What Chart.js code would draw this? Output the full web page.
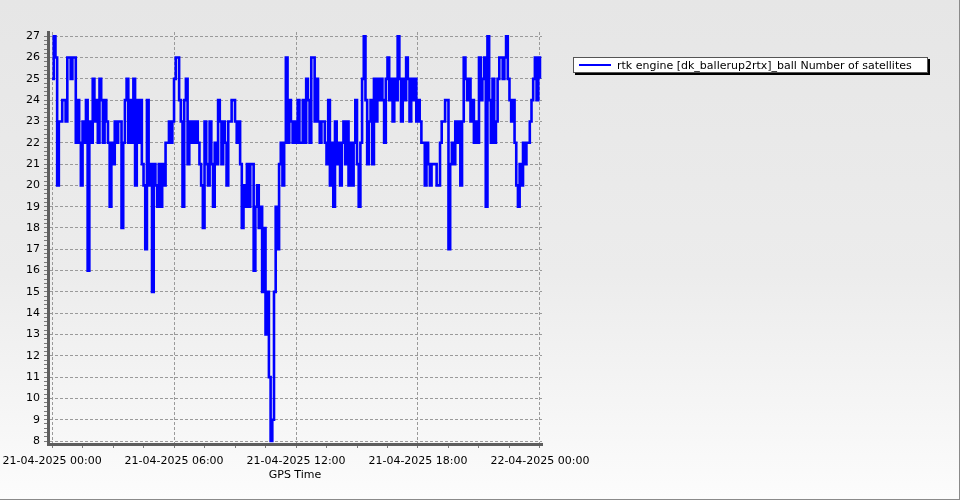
<!DOCTYPE html>
<html>
<head>
<meta charset="utf-8">
<script src="https://cdn.jsdelivr.net/npm/chart.js@4.4.1/dist/chart.umd.min.js"></script>
<style>
    html, body { margin: 0; padding: 0; background: #fff; }
    #wrap {
        position: relative; width: 960px; height: 500px; box-sizing: border-box;
        border-right: 1px solid #8a8a8a; border-bottom: 1px solid #8a8a8a;
        background: linear-gradient(to bottom, #e6e6e6 0%, #ececec 55%, #fcfcfc 100%);
    }
    #chart { position: absolute; left: 0; top: 0; }
    #legend {
        position: absolute; left: 573px; top: 57px; height: 14px;
        background: #fff; border: 1px solid #555; box-shadow: 2px 2px 0 #000;
        font: 11px "DejaVu Sans", sans-serif; color: #000; white-space: nowrap;
        display: flex; align-items: center; padding-right: 15px;
    }
    #legend .swatch { display: inline-block; width: 32px; height: 2px; background: #0000ff; margin: 0 6px 0 5px; }
</style>
</head>
<body>
<div id="wrap">
    <canvas id="chart" width="960" height="500"></canvas>
    <div id="legend"><span class="swatch"></span><span id="legend-text"></span></div>
</div>
<script>
// Number of satellites, one sample every 5 minutes from 21-04-2025 00:00
const sampleStepMin = 5;
const seriesLabel = 'rtk engine [dk_ballerup2rtx]_ball Number of satellites';

const satellites = [
    // 00:00 - 06:00
    25, 27, 26, 20, 23, 23, 24, 24, 23, 26, 26, 25, 26, 26, 22, 24, 22, 20, 23, 22,
    24, 16, 23, 22, 25, 23, 24, 22, 25, 24, 22, 24, 23, 22, 19, 22, 21, 23, 22, 23,
    23, 18, 22, 24, 25, 22, 24, 22, 25, 20, 24, 22, 24, 21, 20, 17, 24, 20, 21, 15,
    21, 20, 19, 21, 19, 21, 20, 22, 22, 23, 22, 23,
    // 06:00 - 12:00
    25, 26, 26, 24, 23, 19, 24, 25, 21, 23, 22, 23, 22, 23, 22, 21, 20, 18, 23, 21,
    20, 23, 21, 19, 22, 21, 24, 23, 21, 23, 22, 20, 23, 23, 24, 24, 23, 22, 23, 21,
    18, 20, 19, 21, 19, 21, 21, 16, 19, 20, 18, 19, 15, 18, 13, 15, 11, 8, 9, 15,
    19, 17, 21, 22, 20, 22, 26, 22, 24, 23, 22, 23, 22,
    // 12:00 - 18:00
    24, 22, 22, 24, 22, 25, 24, 22, 26, 26, 23, 25, 23, 22, 23, 23, 22, 21, 24, 20,
    22, 19, 23, 21, 22, 20, 22, 23, 21, 23, 20, 22, 20, 22, 24, 21, 19, 22, 25, 27,
    24, 21, 23, 24, 21, 25, 23, 25, 24, 25, 24, 22, 25, 26, 24, 25, 23, 25, 24, 27,
    25, 23, 25, 24, 26, 25, 23, 25, 24, 25, 23,
    // 18:00 - 24:00
    24, 23, 22, 22, 20, 22, 21, 20, 21, 21, 21, 20, 20, 22, 23, 23, 24, 24, 17, 21,
    22, 21, 23, 22, 23, 20, 23, 26, 25, 24, 25, 23, 24, 22, 23, 22, 26, 24, 25, 26,
    19, 27, 24, 22, 25, 22, 23, 25, 26, 26, 25, 26, 27, 25, 24, 23, 24, 22, 20, 19,
    21, 20, 22, 21, 22, 22, 23, 24, 25, 26, 24, 26, 25
];

// x axis (hours from start)
const majorHours = [0, 6, 12, 18, 24];
const tickLabels = ['21-04-2025 00:00', '21-04-2025 06:00', '21-04-2025 12:00', '21-04-2025 18:00', '22-04-2025 00:00'];
const minorStepHours = 1.5;

// y axis
const yMinTick = 8;
const yMaxTick = 27;
const yMinorPerUnit = 5;

const axisFont = { family: 'DejaVu Sans', size: 11 };
const gridColor = '#9a9a9a';
const minorTickColor = '#7a7a7a';

document.getElementById('legend-text').textContent = seriesLabel;

const points = satellites.map((v, i) => ({ x: i * sampleStepMin / 60, y: v }));

new Chart(document.getElementById('chart'), {
    type: 'line',
    data: {
        datasets: [{
            label: seriesLabel,
            data: points,
            borderColor: '#0000ff',
            borderWidth: 2.6,
            pointRadius: 0,
            stepped: true,
            fill: false
        }]
    },
    options: {
        responsive: false,
        animation: false,
        layout: { padding: { left: 0, right: 418, top: 32, bottom: 0 } },
        plugins: { legend: { display: false }, tooltip: { enabled: false } },
        scales: {
            x: {
                type: 'linear',
                min: -0.2,
                max: 24.1,
                afterBuildTicks: scale => {
                    const t = [];
                    for (let k = 0; k * minorStepHours <= 24; k++) t.push({ value: k * minorStepHours });
                    scale.ticks = t;
                },
                afterFit: scale => {
                    scale.height = 56;
                    // labels may overhang the plot edges
                    scale.paddingLeft = 0;
                    scale.paddingRight = 0;
                },
                ticks: {
                    autoSkip: false, maxRotation: 0, padding: 7, color: '#000', font: axisFont,
                    callback: v => {
                        const idx = majorHours.indexOf(v);
                        return idx >= 0 ? tickLabels[idx] : '';
                    }
                },
                grid: {
                    color: c => majorHours.includes(c.tick && c.tick.value) ? gridColor : 'transparent',
                    tickColor: minorTickColor,
                    tickLength: 4,
                    lineWidth: 1
                },
                border: { color: '#5e5e5e', width: 3, dash: [3, 2] },
                title: { display: true, text: 'GPS Time', color: '#000', font: axisFont, padding: { top: 0, bottom: 18 } }
            },
            y: {
                min: 7.86,
                max: 27.2,
                afterBuildTicks: scale => {
                    const t = [];
                    for (let k = yMinTick * yMinorPerUnit; k <= yMaxTick * yMinorPerUnit; k++) t.push({ value: k / yMinorPerUnit });
                    scale.ticks = t;
                },
                afterFit: scale => { scale.width = 48; },
                ticks: {
                    autoSkip: false, padding: 4, color: '#000', font: axisFont,
                    callback: v => Number.isInteger(v) ? String(v) : ''
                },
                grid: {
                    color: c => (c.tick && Number.isInteger(c.tick.value)) ? gridColor : 'transparent',
                    tickColor: minorTickColor,
                    tickLength: 4,
                    lineWidth: 1
                },
                border: { color: '#5e5e5e', width: 3, dash: [3, 2] }
            }
        }
    }
});
</script>
</body>
</html>
